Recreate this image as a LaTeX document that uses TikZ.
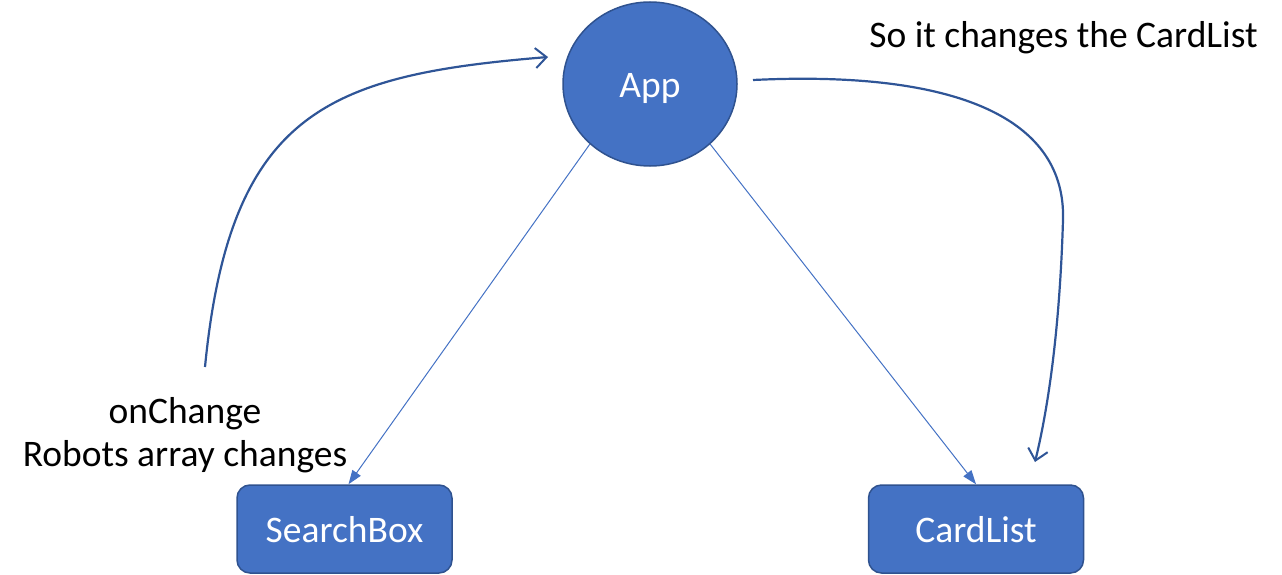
\documentclass[tikz,border=0pt]{standalone}
\usepackage{fontspec}
\setmainfont{Carlito}
\usetikzlibrary{arrows.meta,shapes.geometric}
\definecolor{accfill}{HTML}{4472C4}
\definecolor{accedge}{HTML}{2F528F}
\definecolor{curvec}{HTML}{2F5597}
\begin{document}
\begin{tikzpicture}[x=1pt,y=-1pt,
  every node/.style={font=\fontsize{37.5}{43}\selectfont},
  comp/.style={draw=accedge,line width=1.5pt,fill=accfill,text=white,inner sep=0pt},
  boxnode/.style={comp,rectangle,rounded corners=13pt,minimum width=215pt,minimum height=88pt},
  thinarrow/.style={draw=accfill,line width=1pt,-{Triangle[length=14pt,width=10pt]}},
  curvearrow/.style={draw=curvec,line width=2.2pt,-{Straight Barb[length=11pt,width=20pt,line width=2pt]}},
  lbl/.style={anchor=base,text=black}]
\useasboundingbox (0,0) rectangle (1282,575);
\node[comp,ellipse,minimum width=174pt,minimum height=164pt] (app) at (650,84) {\raisebox{-14pt}[0pt][0pt]{App}};
\node[boxnode] (sb) at (344.5,529) {\raisebox{-13pt}[0pt][0pt]{SearchBox}};
\node[boxnode] (cl) at (976,529) {\raisebox{-13pt}[0pt][0pt]{CardList}};
\node[lbl] (t1) at (185,423) {onChange};
\node[lbl] (t2) at (185,466) {Robots array changes};
\node[lbl] (t3) at (1063.5,48) {So it changes the CardList};
\coordinate (ls) at (205,367);
\coordinate (le) at (548,57);
\coordinate (rs) at (753,80);
\coordinate (rm) at (1063,220);
\coordinate (re) at (1035,462);
\draw[thinarrow] (app.225) -- ([xshift=4pt]sb.north);
\draw[thinarrow] (app.-45) -- (cl.north);
\draw[curvearrow] (ls) .. controls (230,110) and (330,75) .. (le);
\draw[curvearrow] (rs) .. controls (960,70) and (1066,120) .. (rm) .. controls (1060,320) and (1050,400) .. (re);
\end{tikzpicture}
\end{document}
